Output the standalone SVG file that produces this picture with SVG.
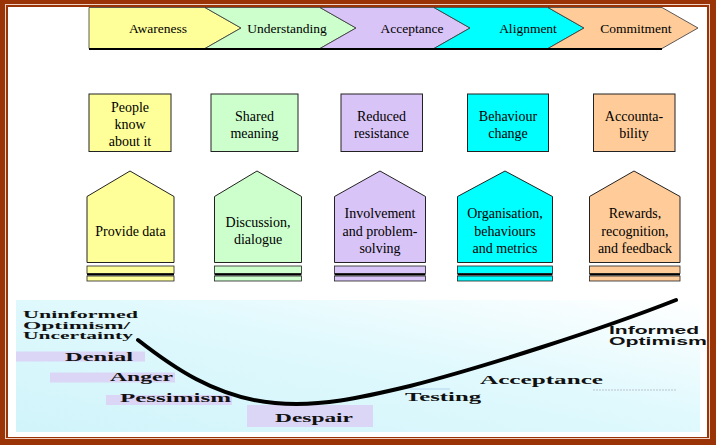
<svg xmlns="http://www.w3.org/2000/svg" width="716" height="445" viewBox="0 0 716 445">
<defs>
<style>
text{font-family:'Liberation Serif','Times New Roman',serif}
.s{font-size:14px;fill:#000;text-anchor:middle}
.c{font-size:13.5px}
.b{font-size:13px;font-weight:bold;fill:#111}
.sm{font-size:9.5px}
.sans{font-family:'Liberation Sans',Arial,sans-serif;font-size:10.5px;font-weight:bold;fill:#111}
.chev{stroke:#333;stroke-width:0.8}
.box{stroke:#222;stroke-width:1}
.house{stroke:#222;stroke-width:1}
.bar{stroke:#222;stroke-width:0.8}
.lav{fill:#dcd6f6}
</style>
<linearGradient id="bg" x1="0" y1="1" x2="1" y2="0">
<stop offset="0" stop-color="#d0f4fa"/>
<stop offset="0.55" stop-color="#e0f9fd"/>
<stop offset="1" stop-color="#ffffff"/>
</linearGradient>
</defs>
<!-- frame -->
<rect x="0" y="0" width="716" height="445" fill="#9a3306"/>
<rect x="5" y="4" width="705" height="435" fill="#efd2c6"/>
<rect x="6" y="5" width="703" height="433" fill="#9a3306"/>
<rect x="8" y="7" width="699" height="430" fill="#ffffff"/>

<!-- chevrons -->
<g id="chevrons" font-family="Liberation Serif, serif">
<g id="chev-awareness">
<polygon class="chev" fill="#ffff99" points="89,7.5 205,7.5 241,28 205,48.5 89,48.5"/>
<text class="s c" x="158" y="33">Awareness</text>
</g>
<g id="chev-understanding">
<polygon class="chev" fill="#ccffcc" points="205,7.5 320,7.5 356,28 320,48.5 205,48.5 241,28"/>
<text class="s c" x="287" y="33">Understanding</text>
</g>
<g id="chev-acceptance">
<polygon class="chev" fill="#d9c4f7" points="320,7.5 434,7.5 470,28 434,48.5 320,48.5 356,28"/>
<text class="s c" x="412" y="33">Acceptance</text>
</g>
<g id="chev-alignment">
<polygon class="chev" fill="#00ffff" points="434,7.5 548,7.5 584,28 548,48.5 434,48.5 470,28"/>
<text class="s c" x="528" y="33">Alignment</text>
</g>
<g id="chev-commitment">
<polygon class="chev" fill="#ffcc99" points="548,7.5 662,7.5 698,28 662,48.5 548,48.5 584,28"/>
<text class="s c" x="636" y="33">Commitment</text>
</g>
<line x1="89" y1="49" x2="662" y2="49" stroke="#000" stroke-width="2"/>
</g>

<!-- upper boxes -->
<g id="box-people" font-family="Liberation Serif, serif">
<rect class="box" x="89" y="94" width="82" height="57.5" fill="#ffff99"/>
<text class="s" x="130" y="111.5">People</text>
<text class="s" x="130" y="129">know</text>
<text class="s" x="130" y="146">about it</text>
</g>
<g id="box-shared" font-family="Liberation Serif, serif">
<rect class="box" x="211" y="94" width="87" height="57.5" fill="#ccffcc"/>
<text class="s" x="254.5" y="120.5">Shared</text>
<text class="s" x="254.5" y="138">meaning</text>
</g>
<g id="box-reduced" font-family="Liberation Serif, serif">
<rect class="box" x="341" y="94" width="81.5" height="57.5" fill="#d9c4f7"/>
<text class="s" x="381.5" y="120.5">Reduced</text>
<text class="s" x="381.5" y="138">resistance</text>
</g>
<g id="box-behaviour" font-family="Liberation Serif, serif">
<rect class="box" x="467.5" y="94" width="81" height="57.5" fill="#00ffff"/>
<text class="s" x="508" y="120.5">Behaviour</text>
<text class="s" x="508" y="138">change</text>
</g>
<g id="box-accountability" font-family="Liberation Serif, serif">
<rect class="box" x="593.5" y="94" width="81.5" height="57.5" fill="#ffcc99"/>
<text class="s" x="634" y="120.5">Accounta-</text>
<text class="s" x="634" y="138">bility</text>
</g>

<!-- houses -->
<g id="house-provide" font-family="Liberation Serif, serif">
<polygon class="house" fill="#ffff99" points="87,196.5 130,171 174,196.5 174,262.5 87,262.5"/>
<rect class="bar" x="87" y="266" width="87" height="7.5" fill="#ffff99"/>
<rect x="87" y="273.5" width="87" height="2" fill="#000"/>
<rect class="bar" x="87" y="276" width="87" height="5" fill="#ffff99"/>
<text class="s" x="130.5" y="236">Provide data</text>
</g>
<g id="house-discussion" font-family="Liberation Serif, serif">
<polygon class="house" fill="#ccffcc" points="214.5,196.5 257,171 301.5,196.5 301.5,262.5 214.5,262.5"/>
<rect class="bar" x="214.5" y="266" width="87" height="7.5" fill="#ccffcc"/>
<rect x="214.5" y="273.5" width="87" height="2" fill="#000"/>
<rect class="bar" x="214.5" y="276" width="87" height="5" fill="#ccffcc"/>
<text class="s" x="258" y="226.5">Discussion,</text>
<text class="s" x="258" y="244">dialogue</text>
</g>
<g id="house-involvement" font-family="Liberation Serif, serif">
<polygon class="house" fill="#d9c4f7" points="334.5,196.5 380,171 425.5,196.5 425.5,262.5 334.5,262.5"/>
<rect class="bar" x="334.5" y="266" width="91" height="7.5" fill="#d9c4f7"/>
<rect x="334.5" y="273.5" width="91" height="2" fill="#000"/>
<rect class="bar" x="334.5" y="276" width="91" height="5" fill="#d9c4f7"/>
<text class="s" x="380" y="218">Involvement</text>
<text class="s" x="380" y="235.5">and problem-</text>
<text class="s" x="380" y="253">solving</text>
</g>
<g id="house-organisation" font-family="Liberation Serif, serif">
<polygon class="house" fill="#00ffff" points="457.5,196.5 505,171 552.5,196.5 552.5,262.5 457.5,262.5"/>
<rect class="bar" x="457.5" y="266" width="95" height="7.5" fill="#00ffff"/>
<rect x="457.5" y="273.5" width="95" height="2" fill="#000"/>
<rect class="bar" x="457.5" y="276" width="95" height="5" fill="#00ffff"/>
<text class="s" x="505" y="218">Organisation,</text>
<text class="s" x="505" y="235.5">behaviours</text>
<text class="s" x="505" y="253">and metrics</text>
</g>
<g id="house-rewards" font-family="Liberation Serif, serif">
<polygon class="house" fill="#ffcc99" points="589.5,196.5 634,171 680,196.5 680,262.5 589.5,262.5"/>
<rect class="bar" x="589.5" y="266" width="90.5" height="7.5" fill="#ffcc99"/>
<rect x="589.5" y="273.5" width="90.5" height="2" fill="#000"/>
<rect class="bar" x="589.5" y="276" width="90.5" height="5" fill="#ffcc99"/>
<text class="s" x="635" y="218">Rewards,</text>
<text class="s" x="635" y="235.5">recognition,</text>
<text class="s" x="635" y="253">and feedback</text>
</g>

<!-- change curve section -->
<g id="curve-area">
<rect x="16" y="300" width="684" height="132" fill="url(#bg)"/>
<rect class="lav" x="16" y="351.5" width="129" height="10"/>
<rect class="lav" x="50" y="372.5" width="125" height="10"/>
<rect class="lav" x="106" y="395" width="126" height="10"/>
<rect class="lav" x="247" y="405" width="126" height="22"/>
<line x1="593" y1="390" x2="677" y2="390" stroke="#b8c4cc" stroke-width="1" stroke-dasharray="2,1"/>
<line x1="410" y1="389" x2="450" y2="389" stroke="#b0d4f0" stroke-width="1"/>
</g>
<g id="connectors">
<path d="M138,340 C170,365 215,398 275,403 C320,407 360,398 410,386 C480,368 600,330 676,300" fill="none" stroke="#000" stroke-width="4" stroke-linecap="round"/>
</g>
<g id="labels" font-family="Liberation Serif, serif">
<text class="b sm" x="23" y="318" textLength="115" lengthAdjust="spacingAndGlyphs">Uninformed</text>
<text class="b sm" x="23" y="328.5" textLength="107" lengthAdjust="spacingAndGlyphs">Optimism/</text>
<text class="b sm" x="23" y="339" textLength="110" lengthAdjust="spacingAndGlyphs">Uncertainty</text>
<text class="b" x="65" y="360.5" textLength="68" lengthAdjust="spacingAndGlyphs">Denial</text>
<text class="b" x="110" y="381" textLength="63" lengthAdjust="spacingAndGlyphs">Anger</text>
<text class="b" x="120" y="402" textLength="111" lengthAdjust="spacingAndGlyphs">Pessimism</text>
<text class="b" x="275" y="421.5" textLength="78" lengthAdjust="spacingAndGlyphs">Despair</text>
<text class="b" x="405" y="401" textLength="76" lengthAdjust="spacingAndGlyphs">Testing</text>
<text class="b" x="480" y="383.5" textLength="123" lengthAdjust="spacingAndGlyphs">Acceptance</text>
<text class="sans" x="609" y="333.5" textLength="90" lengthAdjust="spacingAndGlyphs">Informed</text>
<text class="sans" x="609" y="344.5" textLength="98" lengthAdjust="spacingAndGlyphs">Optimism</text>
</g>
</svg>
